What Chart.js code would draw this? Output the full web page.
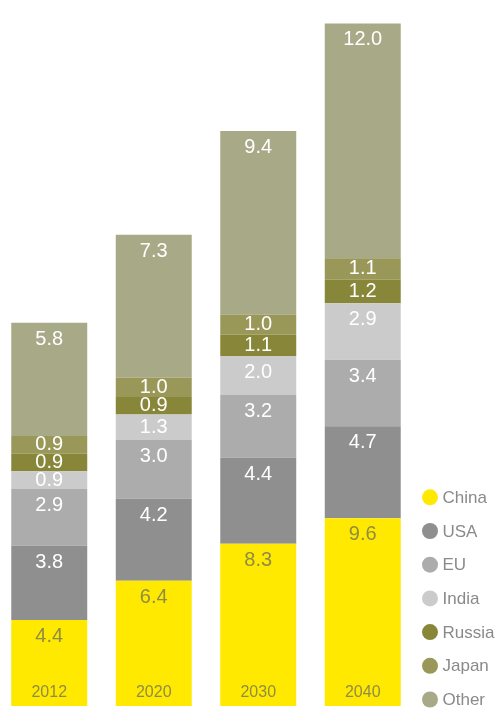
<!DOCTYPE html>
<html lang="en">
<head>
    <meta charset="UTF-8">
    <title>Stacked bars</title>
    <style>
        body {
            margin: 0;
            background-color: #fff;
            width: 499px;
            height: 708px;
            overflow: hidden;
            position: relative;
        }

        .chart-box {
            position: absolute;
            left: -3px;
            top: 0;
            width: 502px;
            height: 708px;
        }
    </style>
    <script src="https://cdn.jsdelivr.net/npm/chart.js"></script>
</head>
<body>
<div class="chart-box">
    <canvas id="stackChart"></canvas>
</div>
<script>
    const years = ['2012', '2020', '2030', '2040'];
    const seriesNames = ['China', 'USA', 'EU', 'India', 'Russia', 'Japan', 'Other'];
    const china = [4.4, 6.4, 8.3, 9.6];
    const usa = [3.8, 4.2, 4.4, 4.7];
    const eu = [2.9, 3.0, 3.2, 3.4];
    const india = [0.9, 1.3, 2.0, 2.9];
    const russia = [0.9, 0.9, 1.1, 1.2];
    const japan = [0.9, 1.0, 1.0, 1.1];
    const other = [5.8, 7.3, 9.4, 12.0];

    const colors = ['#ffe900', '#8f8f8f', '#acacac', '#cbcbcb', '#878639', '#999858', '#a8a986'];
    const olive = '#8f8c45';
    const labelColors = [olive, '#fff', '#fff', '#fff', '#fff', '#fff', '#fff'];
    const fontFamily = '"Liberation Sans", Arial, sans-serif';

    const allValues = [china, usa, eu, india, russia, japan, other];

    // labels inside segments, year under each bar, legend at right
    const labelPlugin = {
        id: 'segmentLabels',
        afterDatasetsDraw(chart) {
            const ctx = chart.ctx;
            ctx.save();
            ctx.textAlign = 'center';
            ctx.textBaseline = 'middle';
            ctx.font = '20px ' + fontFamily;
            chart.data.datasets.forEach(function (ds, i) {
                const meta = chart.getDatasetMeta(i);
                meta.data.forEach(function (bar, j) {
                    const top = Math.min(bar.y, bar.base);
                    const bottom = Math.max(bar.y, bar.base);
                    const y = Math.min(top + 16.5, (top + bottom) / 2);
                    ctx.fillStyle = labelColors[i];
                    ctx.fillText(ds.data[j].toFixed(1), bar.x, y);
                });
            });

            ctx.font = '16px ' + fontFamily;
            ctx.fillStyle = olive;
            const first = chart.getDatasetMeta(0);
            first.data.forEach(function (bar, j) {
                ctx.fillText(years[j], bar.x, bar.base - 13);
            });

            ctx.font = '17px ' + fontFamily;
            ctx.textAlign = 'left';
            seriesNames.forEach(function (name, i) {
                const y = 497.3 + i * 33.7;
                ctx.fillStyle = colors[i];
                ctx.beginPath();
                ctx.arc(433, y, 8, 0, Math.PI * 2);
                ctx.fill();
                ctx.fillStyle = '#8a8a8a';
                ctx.fillText(name, 445.5, y + 1);
            });
            ctx.restore();
        }
    };

    document.addEventListener('DOMContentLoaded', function () {
        const ctx = document.getElementById('stackChart').getContext('2d');
        new Chart(ctx, {
            type: 'bar',
            data: {
                labels: years,
                datasets: seriesNames.map(function (name, i) {
                    return {
                        label: name,
                        data: allValues[i],
                        backgroundColor: colors[i],
                        borderWidth: 0,
                        categoryPercentage: 1,
                        barPercentage: 0.727
                    };
                })
            },
            options: {
                responsive: true,
                maintainAspectRatio: false,
                animation: false,
                layout: {
                    padding: { left: 0, right: 84, top: 0, bottom: 2 }
                },
                plugins: {
                    legend: { display: false },
                    tooltip: { enabled: false }
                },
                scales: {
                    x: {
                        stacked: true,
                        display: false
                    },
                    y: {
                        stacked: true,
                        display: false,
                        min: 0,
                        max: 36.1
                    }
                }
            },
            plugins: [labelPlugin]
        });
    });
</script>
</body>
</html>
